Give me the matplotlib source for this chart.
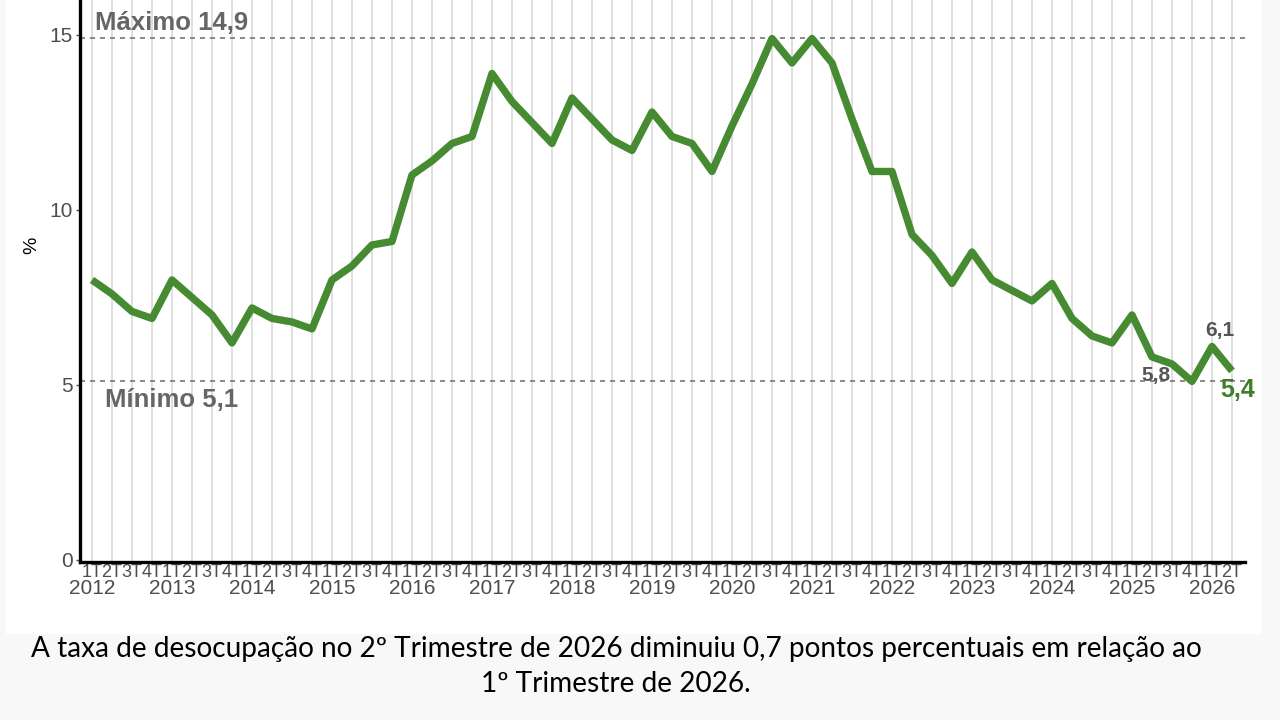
import numpy as np
import matplotlib.pyplot as plt
from matplotlib.patches import Rectangle
from matplotlib.transforms import blended_transform_factory

years = list(range(2012, 2027))
quarter_names = ['1T', '2T', '3T', '4T']
taxa = [8.0, 7.6, 7.1, 6.9,
        8.0, 7.5, 7.0, 6.2,
        7.2, 6.9, 6.8, 6.6,
        8.0, 8.4, 9.0, 9.1,
        11.0, 11.4, 11.9, 12.1,
        13.9, 13.1, 12.5, 11.9,
        13.2, 12.6, 12.0, 11.7,
        12.8, 12.1, 11.9, 11.1,
        12.4, 13.6, 14.9, 14.2,
        14.9, 14.2, 12.6, 11.1,
        11.1, 9.3, 8.7, 7.9,
        8.8, 8.0, 7.7, 7.4,
        7.9, 6.9, 6.4, 6.2,
        7.0, 5.8, 5.6, 5.1,
        6.1, 5.4]
maximo = 14.9
minimo = 5.1
caption_l1 = 'A taxa de desocupação no 2º Trimestre de 2026 diminuiu 0,7 pontos percentuais em relação ao'
caption_l2 = '1º Trimestre de 2026.'

n = len(taxa)
x = np.arange(n)
qlabels = [quarter_names[i % 4] for i in range(n)]

plt.rcParams['font.family'] = ['Liberation Sans', 'DejaVu Sans']

fig = plt.figure(figsize=(12.8, 7.2), dpi=100, facecolor='#f8f8f8')
# white panel behind the chart
fig.patches.append(Rectangle((6/1280, 1-634/720), (1262-6)/1280, 634/720,
                             transform=fig.transFigure, facecolor='white',
                             edgecolor='none', zorder=-5))

ax = fig.add_axes([80/1280, 1-562/720, (1245-80)/1280, 562/720])
ax.set_facecolor('white')
ax.set_zorder(2)

for xi in x:
    ax.axvline(xi, color='#dcdcdc', lw=1.3, zorder=1)

ax.axhline(maximo, color='#777777', lw=1.2, ls=(0, (3, 3)), zorder=2)
ax.axhline(minimo, color='#777777', lw=1.2, ls=(0, (3, 3)), zorder=2)

ax.plot(x, taxa, color='#468a32', lw=5.3, solid_joinstyle='round',
        solid_capstyle='butt', zorder=3)

ax.set_xlim(-0.6, n - 1 + 0.65)
ax.set_ylim(-0.06, 16.0)

for axis in ['top', 'right']:
    ax.spines[axis].set_visible(False)
for axis in ['left', 'bottom']:
    ax.spines[axis].set_linewidth(2.4)
    ax.spines[axis].set_color('black')

ax.set_yticks([0, 5, 10, 15])
ax.tick_params(axis='y', labelsize=15, labelcolor='#4d4d4d', color='#4d4d4d',
               length=3, width=1, pad=2)
ax.set_xticks(x)
ax.set_xticklabels(qlabels)
ax.tick_params(axis='x', labelsize=13, labelcolor='#4d4d4d', length=0, pad=1.5)

tr = blended_transform_factory(ax.transData, ax.transAxes)
for k, yr in enumerate(years):
    ax.text(4*k, -0.047, str(yr), transform=tr, ha='center', va='center',
            fontsize=15, color='#4d4d4d')

ax.text(0.15, 15.14, 'Máximo 14,9', fontsize=18.5, fontweight='bold', color='#666666',
        ha='left', va='baseline')
ax.text(0.65, 4.37, 'Mínimo 5,1', fontsize=18.5, fontweight='bold', color='#666666',
        ha='left', va='baseline')
ax.text(56.4, 6.4, '6,1', fontsize=15, fontweight='bold', color='#555555',
        ha='center', va='baseline')
ax.text(53.2, 5.11, '5,8', fontsize=15, fontweight='bold', color='#555555',
        ha='center', va='baseline')
ax.text(57.28, 4.66, '5,4', fontsize=18, fontweight='bold', color='#3f7f2a',
        ha='center', va='baseline', clip_on=False)

fig.text(32/1280, 1-245/720, '%', rotation=90, ha='center', va='center',
         fontsize=14, color='black')

fig.text(616/1280, 1-657/720, caption_l1, ha='center', va='baseline',
         fontsize=20.2, color='black', family=['Lato', 'DejaVu Sans'])
fig.text(616/1280, 1-692/720, caption_l2, ha='center', va='baseline',
         fontsize=20.2, color='black', family=['Lato', 'DejaVu Sans'])

plt.savefig('out.png', dpi=100, facecolor=fig.get_facecolor())
